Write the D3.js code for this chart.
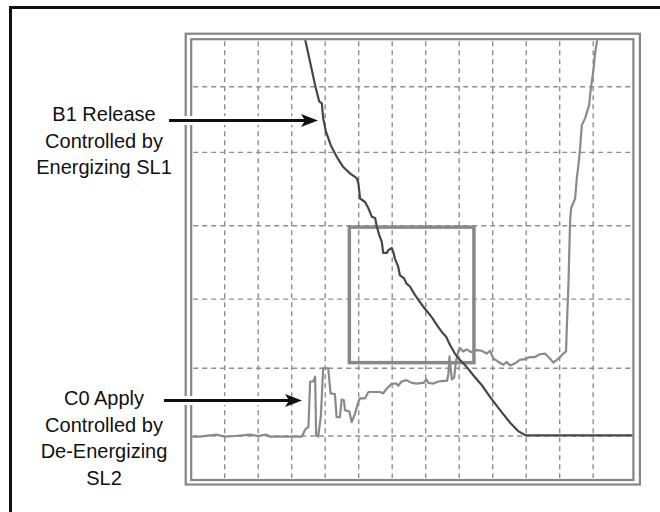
<!DOCTYPE html>
<html>
<head>
<meta charset="utf-8">
<script src="https://d3js.org/d3.v7.min.js"></script>
<style>
  body { margin: 0; background: #fff; }
  .grid line { stroke: #8e8e8e; stroke-width: 1.4; stroke-dasharray: 5,4; }
  .label { font-family: "Liberation Sans", Arial, Helvetica, sans-serif; font-size: 20px; fill: #111; }
</style>
</head>
<body>
<script>
// B1 release pressure trace (time in divisions, value in divisions)
var b1Time = [3.40, 3.70, 3.82, 3.90, 3.94, 4.02, 4.16, 4.34, 4.54, 4.74, 4.94, 4.99, 5.04, 5.19, 5.29,
  5.39, 5.49, 5.54, 5.61, 5.69, 5.73, 5.84, 5.88, 5.99, 6.03, 6.08, 6.18, 6.23, 6.35, 6.43, 6.53, 6.65,
  6.78, 6.93, 7.08, 7.21, 7.33, 7.48, 7.61, 7.73, 7.87, 8.02, 8.22, 8.42, 8.67, 8.92, 9.22, 9.52, 9.76,
  9.98, 13.2];
var b1Value = [5.68, 5.02, 4.79, 4.76, 4.55, 4.36, 4.17, 4.00, 3.85, 3.76, 3.69, 3.62, 3.40, 3.35, 3.26,
  3.14, 3.12, 3.00, 2.88, 2.78, 2.62, 2.62, 2.66, 2.69, 2.64, 2.54, 2.42, 2.30, 2.26, 2.18, 2.14, 2.04,
  1.95, 1.85, 1.76, 1.68, 1.59, 1.49, 1.42, 1.30, 1.18, 1.09, 0.99, 0.87, 0.73, 0.56, 0.37, 0.19, 0.07,
  0.01, 0.01];

// C0 apply pressure trace
var c0Time = [0.02, 0.26, 0.56, 0.76, 1.01, 1.31, 1.76, 1.99, 2.25, 2.35, 3.30, 3.40, 3.50, 3.55, 3.64,
  3.70, 3.73, 3.79, 3.87, 3.94, 4.09, 4.16, 4.29, 4.34, 4.44, 4.49, 4.56, 4.59, 4.72, 4.79, 4.89, 4.99,
  5.04, 5.19, 5.29, 5.44, 5.64, 5.73, 5.84, 5.99, 6.13, 6.18, 6.28, 6.43, 6.58, 6.73, 6.93, 7.02, 7.08,
  7.23, 7.38, 7.53, 7.64, 7.68, 7.71, 7.76, 7.78, 7.85, 7.90, 7.97, 8.02, 8.12, 8.22, 8.37, 8.52, 8.67,
  8.82, 8.92, 9.02, 9.17, 9.32, 9.42, 9.52, 9.67, 9.81, 9.96, 10.11, 10.26, 10.41, 10.56, 10.71, 10.81,
  10.97, 11.11, 11.19, 11.21, 11.26, 11.31, 11.34, 11.46, 11.51, 11.56, 11.61, 11.66, 11.76, 11.88,
  11.93, 12.00, 12.05, 12.12];
var c0Value = [-0.01, -0.01, 0.01, 0.02, -0.01, 0.00, 0.02, 0.00, 0.02, -0.01, -0.01, 0.09, 0.13, 0.78, 0.78,
  0.85, 0.01, -0.01, 0.28, 0.97, 0.97, 0.61, 0.60, 0.27, 0.27, 0.52, 0.51, 0.37, 0.35, 0.20, 0.32, 0.49,
  0.54, 0.54, 0.63, 0.63, 0.63, 0.61, 0.68, 0.75, 0.75, 0.72, 0.78, 0.80, 0.76, 0.75, 0.76, 0.81, 0.76,
  0.75, 0.78, 0.79, 0.79, 0.90, 1.14, 0.90, 0.81, 0.84, 1.06, 1.21, 1.26, 1.21, 1.24, 1.20, 1.23, 1.22,
  1.18, 1.22, 1.11, 1.06, 1.02, 1.06, 1.01, 1.04, 1.09, 1.10, 1.13, 1.13, 1.17, 1.18, 1.11, 1.05,
  1.11, 1.18, 1.21, 1.52, 2.16, 3.07, 3.26, 3.40, 3.69, 3.88, 4.12, 4.45, 4.55, 4.74,
  4.98, 5.21, 5.45, 5.68];

// scope grid lines (the horizontal ones are not evenly spaced on the screen)
var xGrid = [1, 2, 3, 4, 5, 6, 7, 8, 9, 10, 11, 12];
var yGrid = [0, 0.97, 1.96, 3.01, 4.06, 5.0];

// highlighted window [x0, x1, y0, y1]
var boxX = [4.72, 8.44];
var boxY = [1.05, 2.99];

var labelB1 = ["B1 Release", "Controlled by", "Energizing SL1"];
var labelC0 = ["C0 Apply", "Controlled by", "De-Energizing", "SL2"];

var width = 660, height = 512;

var x = d3.scaleLinear().domain([0, 13.2]).range([191.2, 633.4]);
var y = d3.scaleLinear().domain([0, 5.68]).range([436, 39.2]);

var svg = d3.select("body").append("svg")
    .attr("width", width)
    .attr("height", height);

// black frame round the figure (only left and top show)
svg.append("path")
    .attr("d", "M10.5,520 V7.5 H670")
    .attr("fill", "none")
    .attr("stroke", "#111")
    .attr("stroke-width", 3);

var x0 = x.range()[0], x1 = x.range()[1], y0 = y.range()[1], y1 = y(-0.63);

// double border of the scope screen
svg.append("rect")
    .attr("x", x0 - 5.5).attr("y", y0 - 5.5)
    .attr("width", x1 - x0 + 12).attr("height", y1 - y0 + 10)
    .attr("fill", "none").attr("stroke", "#858585").attr("stroke-width", 2.2);
svg.append("rect")
    .attr("x", x0).attr("y", y0)
    .attr("width", x1 - x0).attr("height", y1 - y0)
    .attr("fill", "none").attr("stroke", "#858585").attr("stroke-width", 2.2);

svg.append("clipPath").attr("id", "plot")
  .append("rect")
    .attr("x", x0 + 1).attr("y", y0 + 1)
    .attr("width", x1 - x0 - 2).attr("height", y1 - y0 - 2);

// dashed grid
var grid = svg.append("g").attr("class", "grid");
grid.selectAll(".vx").data(xGrid).enter().append("line")
    .attr("x1", function(d) { return x(d); })
    .attr("x2", function(d) { return x(d); })
    .attr("y1", y0 + 2).attr("y2", y1 - 2);
grid.selectAll(".hy").data(yGrid).enter().append("line")
    .attr("x1", x0 + 2).attr("x2", x1 - 2)
    .attr("y1", function(d) { return y(d); })
    .attr("y2", function(d) { return y(d); });

// highlight box
svg.append("rect")
    .attr("x", x(boxX[0])).attr("y", y(boxY[1]))
    .attr("width", x(boxX[1]) - x(boxX[0]))
    .attr("height", y(boxY[0]) - y(boxY[1]))
    .attr("fill", "none").attr("stroke", "#888").attr("stroke-width", 3.5);

var line = d3.line()
    .x(function(d) { return x(d[0]); })
    .y(function(d) { return y(d[1]); });

var plot = svg.append("g").attr("clip-path", "url(#plot)");

plot.append("path")
    .datum(d3.zip(c0Time, c0Value))
    .attr("d", line)
    .attr("fill", "none").attr("stroke", "#8a8a8a").attr("stroke-width", 2.2)
    .attr("stroke-linejoin", "round");

plot.append("path")
    .datum(d3.zip(b1Time, b1Value))
    .attr("d", line)
    .attr("fill", "none").attr("stroke", "#474747").attr("stroke-width", 2.2)
    .attr("stroke-linejoin", "round");

// labels
function addLabel(lines, cx, baseline) {
  svg.append("text")
      .attr("class", "label")
      .attr("text-anchor", "middle")
    .selectAll("tspan").data(lines).enter().append("tspan")
      .attr("x", cx)
      .attr("y", function(d, i) { return baseline + i * 26.5; })
      .text(function(d) { return d; });
}
addLabel(labelB1, 104, 121);
addLabel(labelC0, 104, 405);

// arrows with a white halo where they cross the screen border
function addArrow(xs, xt, yy) {
  svg.append("line")
      .attr("x1", xs).attr("x2", xt - 12).attr("y1", yy).attr("y2", yy)
      .attr("stroke", "#fff").attr("stroke-width", 9);
  svg.append("line")
      .attr("x1", xs).attr("x2", xt - 10).attr("y1", yy).attr("y2", yy)
      .attr("stroke", "#111").attr("stroke-width", 3);
  svg.append("path")
      .attr("d", "M" + xt + "," + yy + " l-17,-6.5 l4,6.5 l-4,6.5 z")
      .attr("fill", "#111");
}
addArrow(169, 318, 120.5);
addArrow(164, 302, 400.5);
</script>
</body>
</html>
